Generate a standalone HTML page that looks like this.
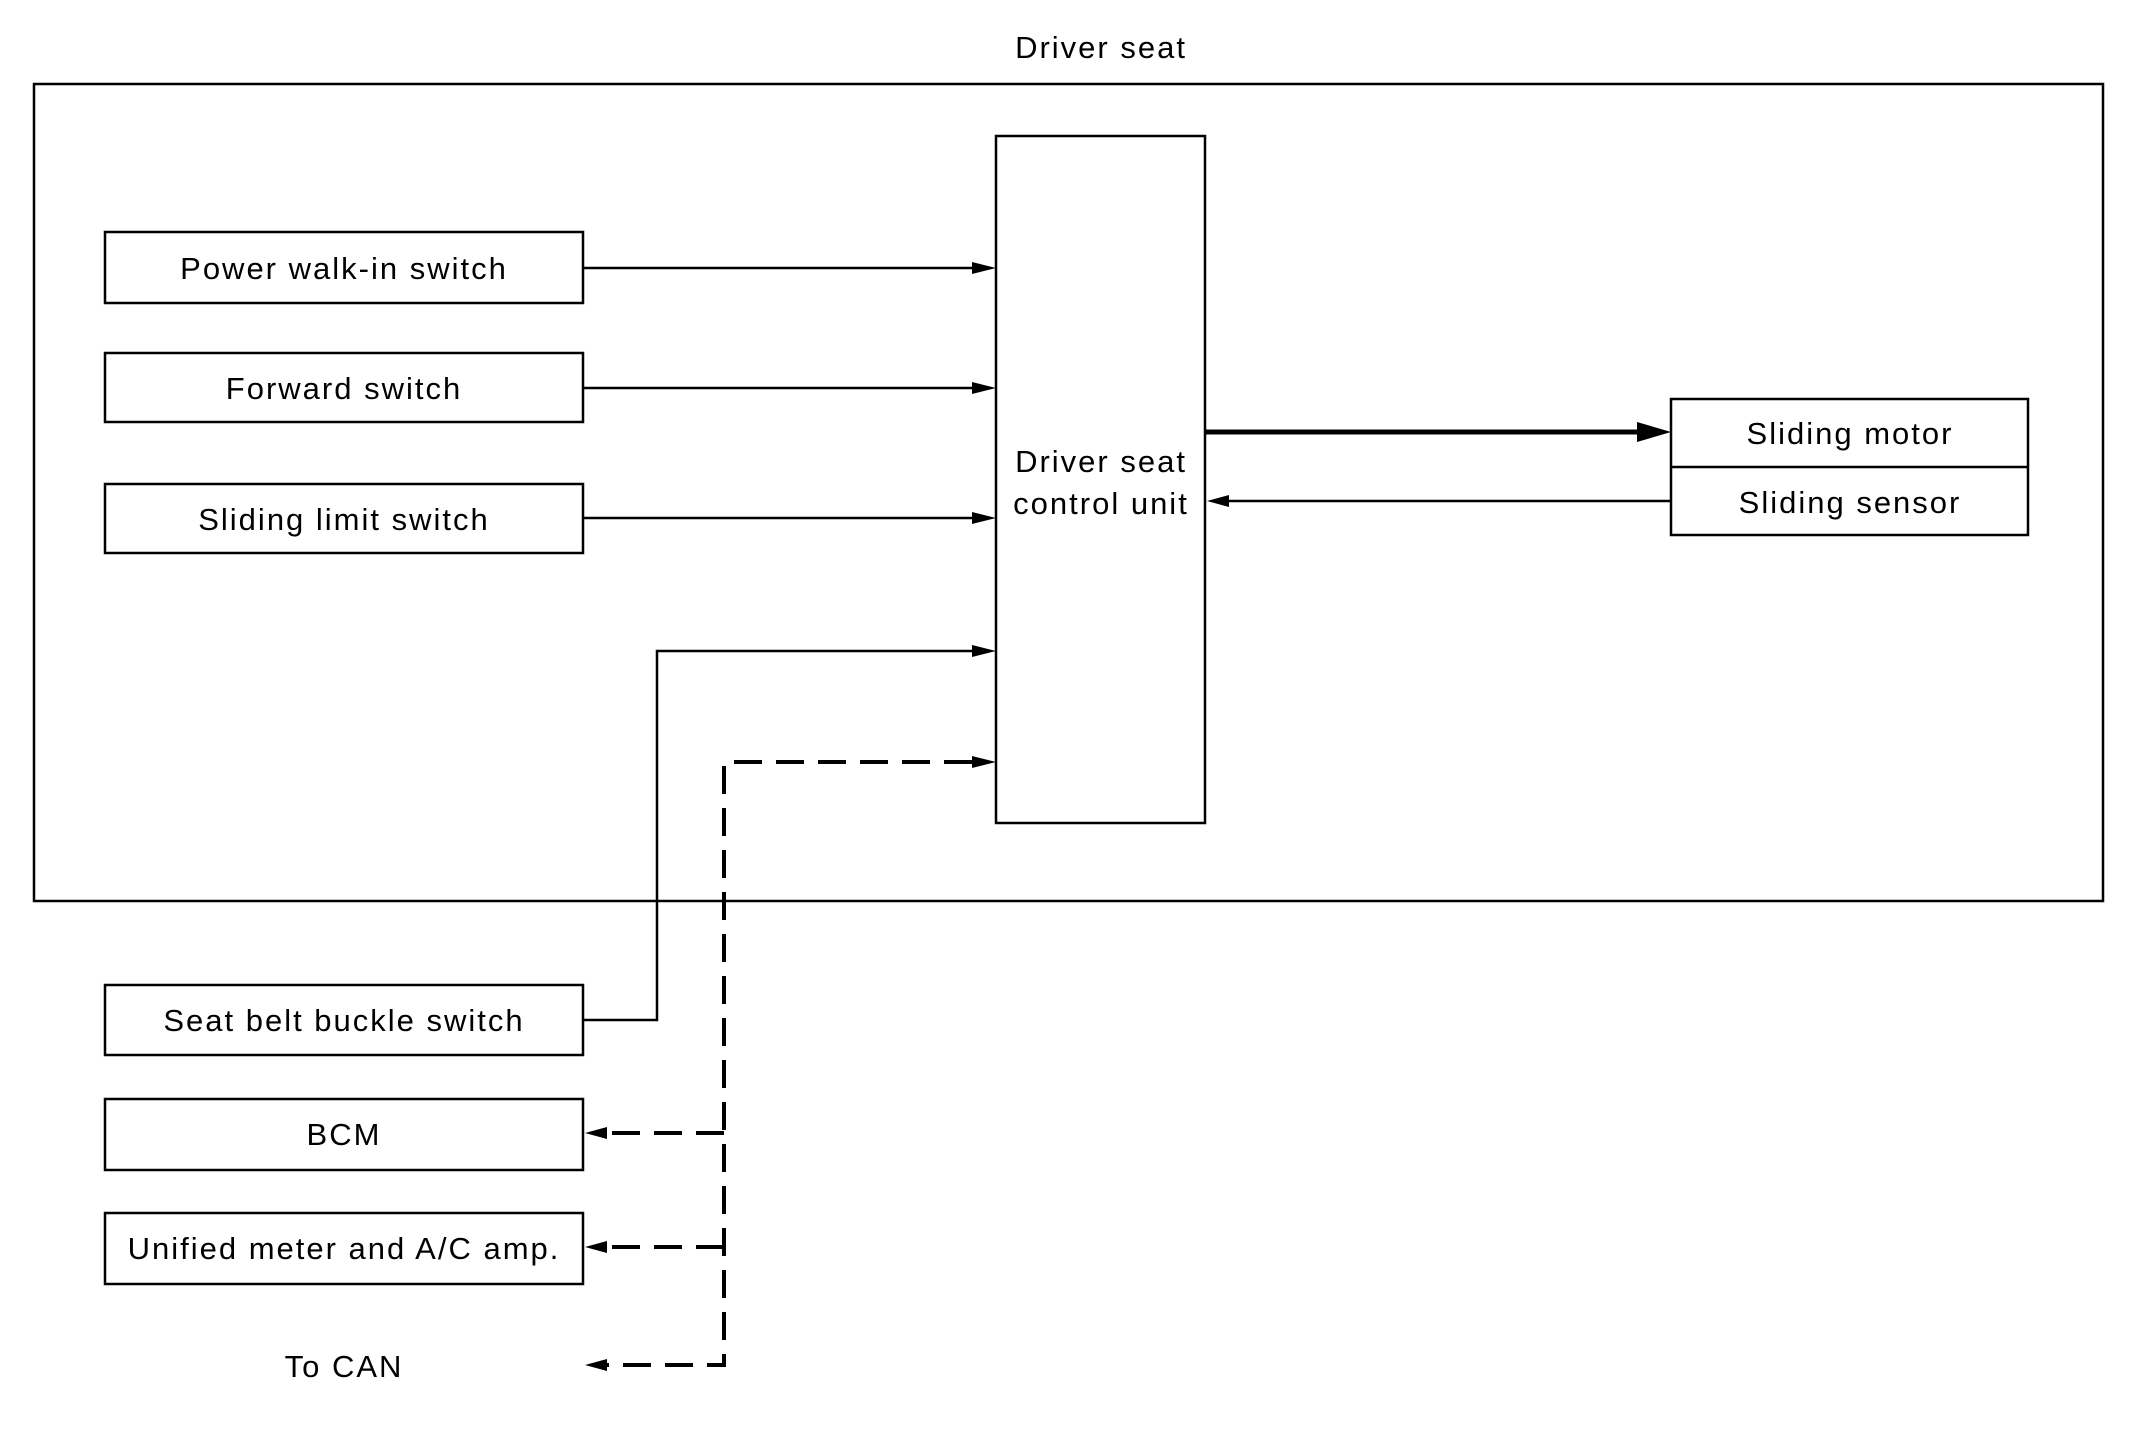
<!DOCTYPE html>
<html><head><meta charset="utf-8"><style>
html,body{margin:0;padding:0;background:#fff;}
svg{display:block;}
text{font-family:"Liberation Sans",sans-serif;font-size:31px;letter-spacing:2px;fill:#000;text-anchor:middle;}
</style></head><body>
<svg width="2130" height="1445" viewBox="0 0 2130 1445" xmlns="http://www.w3.org/2000/svg">
<g fill="none" stroke="#000" stroke-width="2.5">
<rect x="34" y="84" width="2069" height="817"/>
<rect x="996" y="136" width="209" height="687"/>
<rect x="105" y="232" width="478" height="71"/>
<rect x="105" y="353" width="478" height="69"/>
<rect x="105" y="484" width="478" height="69"/>
<rect x="105" y="985" width="478" height="70"/>
<rect x="105" y="1099" width="478" height="71"/>
<rect x="105" y="1213" width="478" height="71"/>
<rect x="1671" y="399" width="357" height="136"/>
<line x1="1671" y1="467" x2="2028" y2="467"/>
</g>
<g stroke="#000" stroke-width="2.5" fill="none">
<line x1="583" y1="268" x2="973" y2="268"/>
<line x1="583" y1="388" x2="973" y2="388"/>
<line x1="583" y1="518" x2="973" y2="518"/>
<polyline points="583,1020 657,1020 657,651 973,651"/>
<line x1="1671" y1="501" x2="1228" y2="501"/>
<line x1="1205" y1="432" x2="1640" y2="432" stroke-width="5"/>
</g>
<g fill="#000">
<path d="M996,268 l-24,-6 v12z"/>
<path d="M996,388 l-24,-6 v12z"/>
<path d="M996,518 l-24,-6 v12z"/>
<path d="M996,651 l-24,-6 v12z"/>
<path d="M996,762 l-24,-6 v12z"/>
<path d="M1207,501 l22,-6 v12z"/>
<path d="M1671,432 l-34,-10 v20z"/>
<path d="M585,1133 l22,-6 v12z"/>
<path d="M585,1247 l22,-6 v12z"/>
<path d="M585,1365 l22,-6 v12z"/>
</g>
<g stroke="#000" stroke-width="4" fill="none" stroke-dasharray="28,14">
<polyline points="972,762 724,762 724,1365 607,1365"/>
<polyline points="724,1133 607,1133"/>
<polyline points="724,1247 607,1247"/>
</g>
<text x="1101" y="58">Driver seat</text>
<text x="344" y="279">Power walk-in switch</text>
<text x="344" y="399">Forward switch</text>
<text x="344" y="530">Sliding limit switch</text>
<text x="344" y="1031">Seat belt buckle switch</text>
<text x="344" y="1145">BCM</text>
<text x="344" y="1259">Unified meter and A/C amp.</text>
<text x="344" y="1377">To CAN</text>
<text x="1101" y="472">Driver seat</text>
<text x="1101" y="514">control unit</text>
<text x="1850" y="444">Sliding motor</text>
<text x="1850" y="513">Sliding sensor</text>
</svg>
</body></html>
